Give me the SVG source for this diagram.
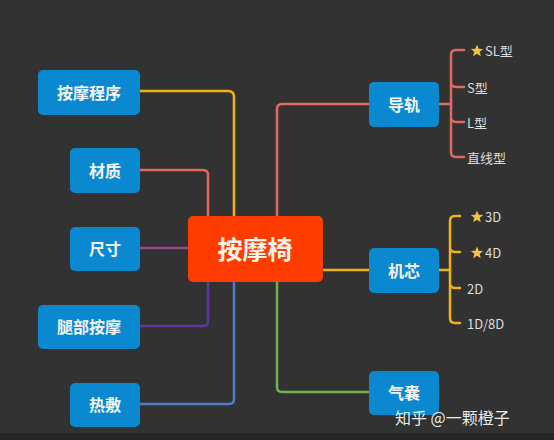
<svg xmlns="http://www.w3.org/2000/svg" xmlns:xlink="http://www.w3.org/1999/xlink" width="554" height="440" viewBox="0 0 554 440">
<defs>
<style>
.node{fill:#0a88d0;}
.nt{font-family:"Noto Sans CJK SC","Noto Sans",sans-serif;font-size:16px;font-weight:bold;fill:#f5f5f5;text-anchor:middle;dominant-baseline:central;}
.ct{font-family:"Noto Sans CJK SC","Noto Sans",sans-serif;font-size:25px;font-weight:bold;fill:#fff3ee;text-anchor:middle;dominant-baseline:central;}
.st{font-family:"Noto Sans CJK SC","Noto Sans",sans-serif;font-size:13px;fill:#dedede;dominant-baseline:central;}
.c{fill:none;stroke-width:2.5;stroke-linecap:round;}
.y{stroke:#efb21a;}
.r{stroke:#e06a5e;}
</style>
<polygon id="star" points="0,-6.5 1.66,-2.28 6.18,-2 2.68,0.87 3.82,5.26 0,2.82 -3.82,5.26 -2.68,0.87 -6.18,-2 -1.66,-2.28" fill="#f7c23c"/>
</defs>
<rect x="0" y="0" width="554" height="440" fill="#323232"/>
<rect x="0" y="433" width="554" height="7" fill="#272727"/>
<g id="connectors">
<path class="c y" d="M140,91 H228 Q234,91 234,97 V216"/>
<path class="c r" d="M140,170 H203 Q208,170 208,175 V216"/>
<path class="c r" d="M277,216 V109 Q277,104 282,104 H369"/>
<path class="c" stroke="#9b4a8c" d="M140,248 H188"/>
<path class="c" stroke="#5b3a9b" d="M208,282 V321 Q208,326 203,326 H140"/>
<path class="c" stroke="#4d7fc4" d="M234,282 V399 Q234,404 229,404 H140"/>
<path class="c y" d="M323,270 H369"/>
<path class="c" stroke="#6cb24a" d="M277,282 V387 Q277,392 282,392 H369"/>
<path class="c r" d="M439,104 H451 M464,50 H456 Q451,50 451,55 V152 Q451,157 456,157 H464 M451,82 Q451,87 456,87 H464 M451,117 Q451,122 456,122 H464"/>
<path class="c y" d="M439,270 H450 M460,216 H455 Q450,216 450,221 V318 Q450,323 455,323 H460 M450,247 Q450,252 455,252 H460 M450,283 Q450,288 455,288 H460"/>
</g>
<g id="center"><rect x="188" y="216" width="135" height="66" rx="5" fill="#ff3d00"/><text class="ct" x="255" y="248">按摩椅</text></g>
<g id="n1"><rect class="node" x="38" y="70" width="102" height="45" rx="5"/><text class="nt" x="89" y="92">按摩程序</text></g>
<g id="n2"><rect class="node" x="70" y="148" width="70" height="45" rx="5"/><text class="nt" x="105" y="170">材质</text></g>
<g id="n3"><rect class="node" x="70" y="227" width="70" height="44" rx="5"/><text class="nt" x="105" y="248">尺寸</text></g>
<g id="n4"><rect class="node" x="38" y="305" width="102" height="44" rx="5"/><text class="nt" x="89" y="326">腿部按摩</text></g>
<g id="n5"><rect class="node" x="70" y="383" width="70" height="44" rx="5"/><text class="nt" x="105" y="404">热敷</text></g>
<g id="n6"><rect class="node" x="369" y="82" width="70" height="45" rx="5"/><text class="nt" x="404" y="104">导轨</text></g>
<g id="n7"><rect class="node" x="369" y="248" width="70" height="45" rx="5"/><text class="nt" x="404" y="270">机芯</text></g>
<g id="n8"><rect class="node" x="369" y="371" width="70" height="44" rx="5"/><text class="nt" x="404" y="392">气囊</text></g>
<g id="sub-guide">
<use xlink:href="#star" href="#star" x="477" y="51"/><text class="st" x="485" y="50">SL型</text>
<text class="st" x="467" y="87">S型</text>
<text class="st" x="467" y="122">L型</text>
<text class="st" x="467" y="157">直线型</text>
</g>
<g id="sub-core">
<use xlink:href="#star" href="#star" x="477" y="217"/><text class="st" x="485" y="216">3D</text>
<use xlink:href="#star" href="#star" x="477" y="253"/><text class="st" x="485" y="252">4D</text>
<text class="st" x="467" y="288">2D</text>
<text class="st" x="467" y="323">1D/8D</text>
</g>
<text x="395" y="417" font-family="'Noto Sans CJK SC','Noto Sans',sans-serif" font-size="16" fill="#ffffff" fill-opacity="0.92" dominant-baseline="central">知乎 @一颗橙子</text>
</svg>
